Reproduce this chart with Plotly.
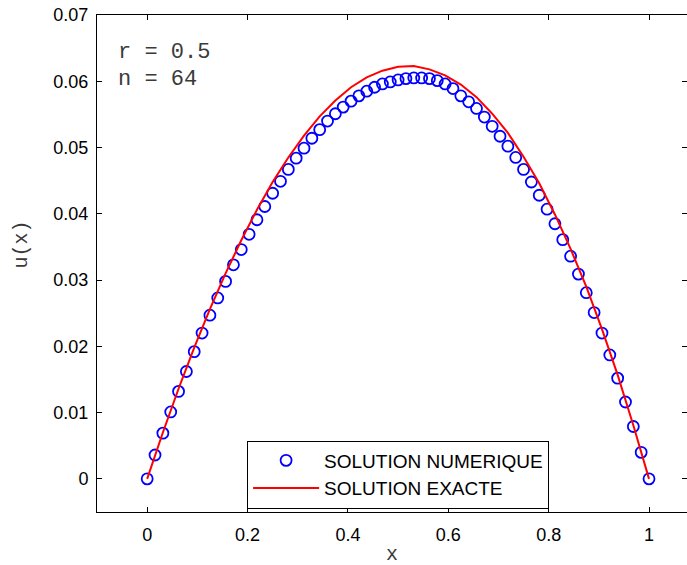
import plotly.graph_objects as go

# Solution numerique : n = 64 intervalles, 65 noeuds
n = 64
x_num = [i / n for i in range(n + 1)]
u_num = [
    0.0, 0.0036, 0.0069, 0.0101, 0.0132, 0.0162, 0.0192, 0.0220,
    0.0247, 0.0273, 0.0298, 0.0323, 0.0346, 0.0369, 0.0391, 0.0411,
    0.0431, 0.0449, 0.0467, 0.0484, 0.0499, 0.0514, 0.0527, 0.0540,
    0.0551, 0.0561, 0.0570, 0.0578, 0.0585, 0.0591, 0.0596, 0.0599,
    0.0602, 0.0604, 0.0605, 0.0605, 0.0604, 0.0601, 0.0596, 0.0589,
    0.0578, 0.0569, 0.0559, 0.0546, 0.0532, 0.0517, 0.0502, 0.0485,
    0.0467, 0.0448, 0.0428, 0.0407, 0.0385, 0.0361, 0.0336, 0.0309,
    0.0281, 0.0251, 0.0220, 0.0187, 0.0152, 0.0116, 0.0079, 0.0040,
    0.0,
]

# Solution exacte (lue sur la courbe rouge, pas de 1/32)
x_ex = [k / 32 for k in range(33)]
u_ex = [
    0.0, 0.0070, 0.0136, 0.0198, 0.0256, 0.0310, 0.0360, 0.0406,
    0.0448, 0.0485, 0.0518, 0.0547, 0.0571, 0.0591, 0.0606, 0.0616,
    0.0622, 0.0623, 0.0618, 0.0609, 0.0595, 0.0576, 0.0551, 0.0522,
    0.0486, 0.0446, 0.0399, 0.0347, 0.0290, 0.0226, 0.0157, 0.0081,
    0.0,
]

x_ticks = [0, 0.2, 0.4, 0.6, 0.8, 1]
y_ticks = [0, 0.01, 0.02, 0.03, 0.04, 0.05, 0.06, 0.07]
legend_names = ["SOLUTION NUMERIQUE", "SOLUTION EXACTE"]
params = ["r = 0.5", "n = 64"]

SANS = "Liberation Sans, Arial, sans-serif"
MONO = "Liberation Mono, Courier New, monospace"

fig = go.Figure()

fig.add_trace(go.Scatter(
    x=x_num, y=u_num, mode="markers", name=legend_names[0],
    marker=dict(symbol="circle-open", size=11, color="#0000ff",
                line=dict(width=1.8, color="#0000ff")),
))
fig.add_trace(go.Scatter(
    x=x_ex, y=u_ex, mode="lines", name=legend_names[1],
    line=dict(color="#ff0000", width=2),
))

axis_common = dict(
    showgrid=False, zeroline=False, showline=True, linecolor="black",
    linewidth=1, mirror="ticks", ticks="inside", ticklen=5,
    tickcolor="black", tickfont=dict(family=SANS, size=18, color="black"),
)

fig.update_xaxes(range=[-0.1, 1.0757], tickvals=x_ticks,
                 ticktext=["0", "0.2", "0.4", "0.6", "0.8", "1"],
                 ticklabelstandoff=6, **axis_common)
fig.update_yaxes(range=[-0.005, 0.07], tickvals=y_ticks,
                 ticktext=["0", "0.01", "0.02", "0.03", "0.04", "0.05", "0.06", "0.07"],
                 ticklabelstandoff=4, **axis_common)

# textes r et n
fig.add_annotation(x=-0.062, y=0.0644, xref="x", yref="y", text=params[0],
                   showarrow=False, xanchor="left", yanchor="middle",
                   font=dict(family=MONO, size=22, color="#3a3a3a"))
fig.add_annotation(x=-0.062, y=0.0602, xref="x", yref="y", text=params[1],
                   showarrow=False, xanchor="left", yanchor="middle",
                   font=dict(family=MONO, size=22, color="#3a3a3a"))

# titres des axes
fig.add_annotation(x=0.5, y=-0.085, xref="paper", yref="paper", text="x",
                   showarrow=False, xanchor="center", yanchor="middle",
                   font=dict(family=MONO, size=20, color="#3a3a3a"))
fig.add_annotation(x=-0.128, y=0.539, xref="paper", yref="paper", text="u(x)",
                   showarrow=False, xanchor="center", yanchor="middle",
                   textangle=-90,
                   font=dict(family=MONO, size=20, color="#3a3a3a"))

fig.update_layout(
    width=687, height=565,
    margin=dict(l=97, r=0, t=15, b=53),
    paper_bgcolor="white", plot_bgcolor="white",
    showlegend=True,
    legend=dict(x=0.2544, y=0.007, xanchor="left", yanchor="bottom",
                bgcolor="white", bordercolor="black", borderwidth=1,
                font=dict(family=SANS, size=19, color="black"),
                itemwidth=66, tracegroupgap=0),
)

# pas de marge autour de la figure dans la page, pas de barre d'outils
fig.write_html("out.html", config={"displayModeBar": False},
               post_script="document.body.style.margin='0';")
